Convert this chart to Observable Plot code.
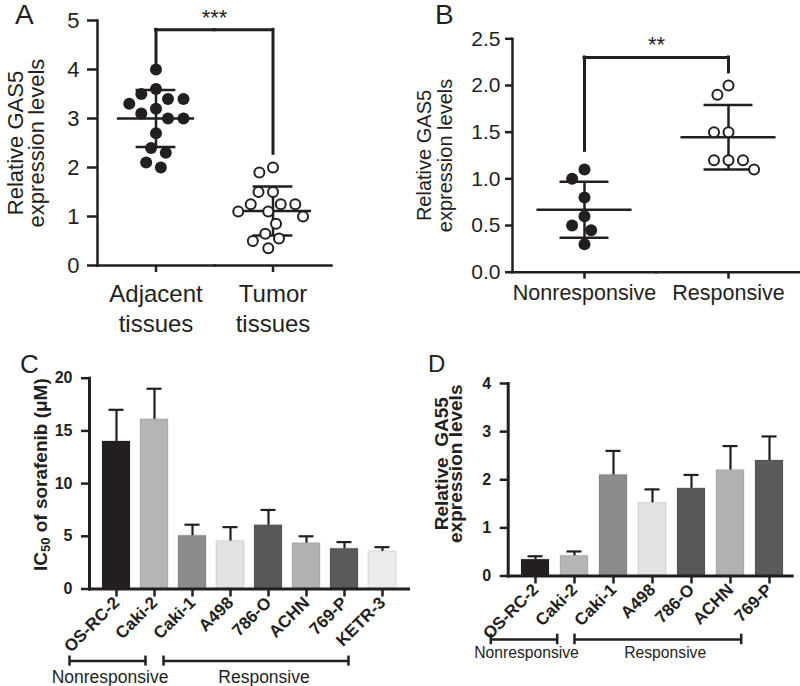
<!DOCTYPE html>
<html>
<head>
<meta charset="utf-8">
<script src="https://cdn.jsdelivr.net/npm/d3@7"></script>
<script src="https://cdn.jsdelivr.net/npm/@observablehq/plot@0.6"></script>
<style>
  html, body { margin: 0; padding: 0; background: #fff; }
  #root { position: relative; width: 800px; height: 686px; overflow: hidden; background: #fff;
          font-family: "Liberation Sans", Arial, Helvetica, sans-serif; color: #231f20; }
  .panel { position: absolute; }
  .letter { position: absolute; line-height: 1; font-family: "Liberation Sans", Arial, Helvetica, sans-serif; color: #231f20; }
</style>
</head>
<body>
<div id="root">
  <div class="panel" id="pA" style="left:0;top:0;width:390px;height:340px"></div>
  <div class="panel" id="pB" style="left:390px;top:0;width:410px;height:320px"></div>
  <div class="panel" id="pC" style="left:0;top:340px;width:420px;height:346px"></div>
  <div class="panel" id="pD" style="left:400px;top:340px;width:400px;height:346px"></div>
  <div class="letter" style="left:15px;top:1px;font-size:28px">A</div>
  <div class="letter" style="left:435px;top:1px;font-size:28px">B</div>
  <div class="letter" style="left:20px;top:351px;font-size:26px">C</div>
  <div class="letter" style="left:428px;top:352px;font-size:24px">D</div>
</div>
<script>
// ---------- Panel A data ----------
const groupsA = ["Adjacent\ntissues", "Tumor\ntissues"];
const adjacentA = [4.0, 3.6, 3.5, 3.4, 3.4, 3.3, 3.2, 3.1, 3.0, 3.0, 2.7, 2.4, 2.3, 2.1, 2.0];
const tumorA = [2.0, 1.9, 1.5, 1.5, 1.25, 1.25, 1.25, 1.1, 1.1, 1.0, 0.85, 0.65, 0.55, 0.5, 0.35];
const meanA = [3.0, 1.11];
const sdA = [0.58, 0.5];
const ticksA = [0, 1, 2, 3, 4, 5];
const legBottomA = [4.12, 2.28];
const bracketTopA = 4.81;
const sigA = "***";
const sigYA = 4.9;
const ylabelA = "Relative GAS5\nexpression levels";

// ---------- Panel B data ----------
const groupsB = ["Nonresponsive", "Responsive"];
const nonresponsiveB = [1.1, 1.0, 0.8, 0.6, 0.5, 0.45, 0.3];
const responsiveB = [2.0, 1.9, 1.5, 1.5, 1.2, 1.2, 1.2, 1.1];
const meanB = [0.67, 1.445];
const sdB = [0.3, 0.345];
const ticksB = [0, 0.5, 1.0, 1.5, 2.0, 2.5];
const legBottomB = [1.30, 2.14];
const bracketTopB = 2.30;
const sigB = "**";
const sigYB = 2.36;
const ylabelB = "Relative GAS5\nexpression levels";

// ---------- Panel C data ----------
const cellsC = ["OS-RC-2", "Caki-2", "Caki-1", "A498", "786-O", "ACHN", "769-P", "KETR-3"];
const ic50C = [14.0, 16.1, 5.05, 4.55, 6.05, 4.35, 3.82, 3.56];
const ic50ErrC = [17.0, 19.0, 6.1, 5.87, 7.5, 5.0, 4.45, 3.97];
const graysC = ["#231f20", "#b5b5b5", "#8c8c8c", "#e2e3e4", "#58585a", "#b1b1b1", "#5a5a5c", "#ebebeb"];
const ticksC = [0, 5, 10, 15, 20];
const ylabelC = ["IC", "50", " of sorafenib (\u03bcM)"];
const groupLabels = ["Nonresponsive", "Responsive"];
const groupSpanC = [["OS-RC-2", "Caki-2"], ["Caki-1", "769-P"]];

// ---------- Panel D data ----------
const cellsD = ["OS-RC-2", "Caki-2", "Caki-1", "A498", "786-O", "ACHN", "769-P"];
const gas5D = [0.34, 0.42, 2.1, 1.52, 1.82, 2.2, 2.4];
const gas5ErrD = [0.41, 0.51, 2.6, 1.80, 2.1, 2.7, 2.9];
const graysD = ["#231f20", "#b5b5b5", "#8c8c8c", "#e2e3e4", "#58585a", "#b1b1b1", "#5a5a5c"];
const ticksD = [0, 1, 2, 3, 4];
const ylabelD = "Relative  GA55\nexpression levels";
const groupSpanD = [["OS-RC-2", "Caki-2"], ["Caki-1", "ACHN"]];

// ---------- helpers ----------
const ink = "#231f20";
const font = "'Liberation Sans', Arial, Helvetica, sans-serif";
const baseStyle = () => ({background: "transparent", overflow: "visible", fontFamily: font, color: ink});

function scatterPanel(cfg) {
  const {groups, first, second, mean, sd, ticks, legBottom, bracketTop, sig, sigY, ylabel, dims, fonts} = cfg;
  const dots0 = first.map(v => ({g: groups[0], v}));
  const dots1 = second.map(v => ({g: groups[1], v}));
  const stats = groups.map((g, i) => ({g, mean: mean[i], lo: mean[i] - sd[i], hi: mean[i] + sd[i]}));
  const legs = groups.map((g, i) => ({g, y1: legBottom[i], y2: bracketTop, dir: i === 0 ? 1 : -1}));
  return Plot.plot({
    ...dims,
    style: baseStyle(),
    fx: {domain: groups, padding: 0, axis: null, label: null},
    x: {domain: [-1, 1], axis: null},
    y: {domain: [ticks[0], ticks[ticks.length - 1]], axis: null},
    marks: [
      Plot.frame({anchor: "bottom", stroke: ink, strokeWidth: 2.5}),
      Plot.frame({anchor: "left", stroke: ink, strokeWidth: 2.5, facetAnchor: "left"}),
      Plot.axisY({ticks, tickFormat: fonts.tickFormat, tickSize: fonts.ytickSize, tickPadding: fonts.ytickPad,
                  fontSize: fonts.tick, strokeWidth: 2.5, label: null}),
      Plot.axisFx({anchor: "bottom", tickSize: 7, tickPadding: fonts.xtickPad, fontSize: fonts.cat,
                   lineHeight: fonts.catLine, strokeWidth: 2.5, label: null}),
      Plot.text([ylabel], {frameAnchor: "left", textAnchor: "middle", dx: fonts.ylabDx, rotate: -90, fontSize: fonts.ylab,
                           lineHeight: fonts.ylabLine, facetAnchor: "left"}),
      // mean and SD
      Plot.ruleY(stats, {fx: "g", y: "mean", x1: -0.66, x2: 0.66, stroke: ink, strokeWidth: 2.5}),
      Plot.ruleY(stats, {fx: "g", y: "hi", x1: -0.34, x2: 0.34, stroke: ink, strokeWidth: 2.5}),
      Plot.ruleY(stats, {fx: "g", y: "lo", x1: -0.34, x2: 0.34, stroke: ink, strokeWidth: 2.5}),
      Plot.ruleX(stats, {fx: "g", x: 0, y1: "lo", y2: "hi", stroke: ink, strokeWidth: 2.5}),
      // points
      Plot.dot(dots0, Plot.dodgeX({anchor: "middle", padding: fonts.dotPad}, {fx: "g", y: "v", r: 6, fill: ink})),
      Plot.dot(dots1, Plot.dodgeX({anchor: "middle", padding: fonts.dotPad + 1}, {fx: "g", y: "v", r: 5, fill: "white", stroke: ink, strokeWidth: 2})),
      // significance bracket
      Plot.ruleX(legs, {fx: "g", x: 0, y1: "y1", y2: "y2", stroke: ink, strokeWidth: 3, strokeLinecap: "square"}),
      Plot.ruleY(legs, {fx: "g", y: "y2", x1: 0, x2: "dir", stroke: ink, strokeWidth: 3, strokeLinecap: "square"}),
      Plot.text([sig], {fx: () => groups[0], x: 1, y: sigY, fontSize: 22, lineAnchor: "bottom"})
    ]
  });
}

function barPanel(cfg) {
  const {cells, values, errs, grays, ticks, dims, spans, band, ylabel, lab, brk} = cfg;
  const rows = cells.map((cell, i) => ({cell, v: values[i], err: errs[i]}));
  const marks = [
    Plot.barY(rows, {x: "cell", y: "v", fill: "cell", stroke: "#000", strokeOpacity: 0.06, strokeWidth: 2}),
    Plot.ruleX(rows, {x: "cell", y1: "v", y2: "err", stroke: ink, strokeWidth: 2.2}),
    Plot.tickY(rows, {x: "cell", y: "err", insetLeft: 6.5, insetRight: 6.5, stroke: ink, strokeWidth: 2.2}),
    Plot.frame({anchor: "left", stroke: ink, strokeWidth: 3}),
    Plot.frame({anchor: "bottom", stroke: ink, strokeWidth: 3}),
    Plot.axisY({ticks, tickFormat: d3.format("d"), tickSize: 8, tickPadding: 9, fontSize: 16, fontWeight: "bold",
                strokeWidth: 2.5, label: null}),
    Plot.axisX({tickRotate: -45, tickSize: 8, tickPadding: 3, fontSize: 17, fontWeight: "bold", strokeWidth: 2.5, label: null}),
    Plot.text([ylabel], {frameAnchor: "left", textAnchor: "middle", dx: lab.dx, dy: lab.dy, rotate: -90, fontSize: lab.size,
                         fontWeight: "bold", lineHeight: lab.line})
  ];
  spans.forEach(([from, to], k) => {
    const b = [{from, to, label: groupLabels[k]}];
    const o = brk.items[k];
    marks.push(
      Plot.ruleY(b, {x1: "from", x2: "to", y: brk.y, insetLeft: o.insetLeft, insetRight: o.insetRight, stroke: ink, strokeWidth: 2.5}),
      Plot.ruleX(b, {x: "from", y1: brk.y - brk.cap, y2: brk.y + brk.cap, dx: o.dxFrom, stroke: ink, strokeWidth: 2.5}),
      Plot.ruleX(b, {x: "to", y1: brk.y - brk.cap, y2: brk.y + brk.cap, dx: o.dxTo, stroke: ink, strokeWidth: 2.5}),
      Plot.text(b, {x: "from", y: brk.labelY, text: "label", dx: o.dxLabel, fontSize: brk.size, lineAnchor: "bottom"})
    );
  });
  return Plot.plot({
    ...dims,
    style: baseStyle(),
    x: {domain: cells, ...band, axis: null, label: null},
    y: {domain: [ticks[0], ticks[ticks.length - 1]], axis: null},
    color: {type: "ordinal", domain: cells, range: grays},
    marks
  });
}

// ---------- build ----------
const plotA = scatterPanel({
  groups: groupsA, first: adjacentA, second: tumorA, mean: meanA, sd: sdA, ticks: ticksA,
  legBottom: legBottomA, bracketTop: bracketTopA, sig: sigA, sigY: sigYA, ylabel: ylabelA,
  dims: {width: 390, height: 340, marginLeft: 97, marginRight: 59, marginTop: 20, marginBottom: 75},
  fonts: {tick: 22, tickFormat: d3.format("d"), ytickSize: 10, ytickPad: 8, cat: 24, catLine: 1.25, xtickPad: 8,
          ylab: 22, ylabLine: 0.95, ylabDx: -71, dotPad: 3.5}
});
document.getElementById("pA").appendChild(plotA);

const plotB = scatterPanel({
  groups: groupsB, first: nonresponsiveB, second: responsiveB, mean: meanB, sd: sdB, ticks: ticksB,
  legBottom: legBottomB, bracketTop: bracketTopB, sig: sigB, sigY: sigYB, ylabel: ylabelB,
  dims: {width: 410, height: 320, marginLeft: 122, marginRight: 0, marginTop: 38.3, marginBottom: 48.3},
  fonts: {tick: 21, tickFormat: d3.format(".1f"), ytickSize: 7, ytickPad: 5, cat: 21.5, catLine: 1, xtickPad: 6,
          ylab: 20, ylabLine: 1.05, ylabDx: -78, dotPad: 3.5}
});
document.getElementById("pB").appendChild(plotB);

const plotC = barPanel({
  cells: cellsC, values: ic50C, errs: ic50ErrC, grays: graysC, ticks: ticksC, spans: groupSpanC,
  ylabel: ylabelC.join(""),
  dims: {width: 420, height: 346, marginLeft: 89, marginRight: 12, marginTop: 37.7, marginBottom: 97.5},
  band: {paddingInner: 0.266, paddingOuter: 0.315},
  lab: {dx: -49, dy: -9, size: 19, line: 1},
  brk: {y: -6.84, cap: 0.48, labelY: -8.95, size: 17.5,
        items: [{insetLeft: -33, insetRight: 23, dxFrom: -47, dxTo: -9, dxLabel: -6.5},
                {insetLeft: -15, insetRight: 10, dxFrom: -29, dxTo: 4, dxLabel: 71.5}]}
});
document.getElementById("pC").appendChild(plotC);

const plotD = barPanel({
  cells: cellsD, values: gas5D, errs: gas5ErrD, grays: graysD, ticks: ticksD, spans: groupSpanD,
  ylabel: ylabelD,
  dims: {width: 400, height: 346, marginLeft: 107.7, marginRight: 8.3, marginTop: 43, marginBottom: 110.5},
  band: {paddingInner: 0.278, paddingOuter: 0.262, align: 0.59},
  lab: {dx: -58, dy: -16, size: 19, line: 0.74},
  brk: {y: -1.318, cap: 0.11, labelY: -1.706, size: 15.7,
        items: [{insetLeft: -30.7, insetRight: 31.3, dxFrom: -44.7, dxTo: -17.3, dxLabel: -9},
                {insetLeft: -24.9, insetRight: 3.4, dxFrom: -39, dxTo: 10.7, dxLabel: 51.7}]}
});
document.getElementById("pD").appendChild(plotD);

// subscript in panel C's axis title
const fullC = ylabelC.join("");
plotC.querySelectorAll("text").forEach(t => {
  if (t.textContent === fullC) {
    t.textContent = "";
    const ns = "http://www.w3.org/2000/svg";
    const a = document.createElementNS(ns, "tspan"); a.textContent = ylabelC[0];
    const s = document.createElementNS(ns, "tspan"); s.textContent = ylabelC[1];
    s.setAttribute("dy", "0.3em"); s.setAttribute("font-size", "0.68em");
    const c = document.createElementNS(ns, "tspan"); c.textContent = ylabelC[2];
    c.setAttribute("dy", "-0.2em");
    t.append(a, s, c);
  }
});
</script>
</body>
</html>
